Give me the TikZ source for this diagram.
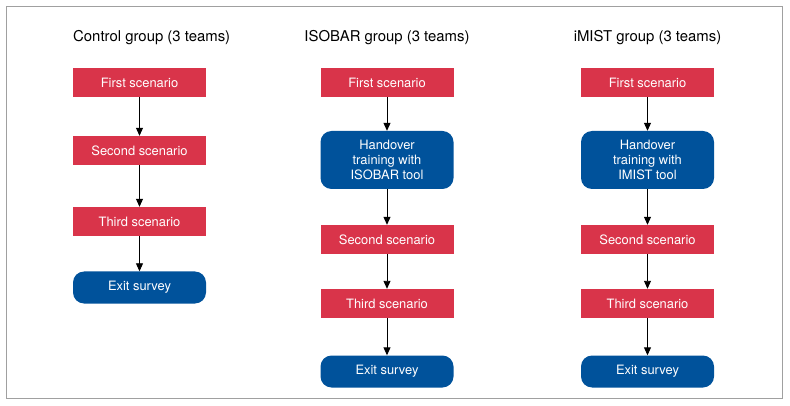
\documentclass[tikz,border=0pt]{standalone}
\usepackage{fontspec}
\setmainfont{TeX Gyre Heros}
\usetikzlibrary{arrows.meta}
\definecolor{boxred}{HTML}{D9344A}
\definecolor{boxblue}{HTML}{00529B}
\definecolor{framegray}{HTML}{A0A0A0}
\tikzset{
  redbox/.style={fill=boxred, draw=none, text=white, minimum width=133pt, minimum height=29pt, inner sep=0pt, font=\fontsize{12.9}{15}\selectfont},
  bluebox/.style={fill=boxblue, draw=none, text=white, rounded corners=11pt, minimum width=133pt, minimum height=32pt, inner sep=0pt, align=center, font=\fontsize{12.9}{15}\selectfont},
  title/.style={text=black, inner sep=0pt, font=\fontsize{14.9}{17}\selectfont, anchor=base},
  flow/.style={draw=black, line width=0.9pt, -{Triangle[length=8pt,width=7pt]}},
}
\begin{document}
\begin{tikzpicture}[x=1pt,y=-1pt]
\useasboundingbox (0,0) rectangle (790,406);
\draw[framegray, line width=1.5pt] (6.5,6.5) rectangle (782.5,398.5);

% Control
\node[title, anchor=base west] (t1) at (73,42) {Control group (3 teams)};
\node[redbox] (c1) at (139.5,82.5) {First scenario};
\node[redbox] (c2) at (139.5,150.5) {Second scenario};
\node[redbox] (c3) at (139.5,221.5) {Third scenario};
\node[bluebox] (c4) at (139.5,287.5) {Exit survey};
\draw[flow] (c1) -- (c2);
\draw[flow] (c2) -- (c3);
\draw[flow] (c3) -- (c4);

% ISOBAR
\node[title] (t2) at (387,42) {ISOBAR group (3 teams)};
\node[redbox] (i1) at (387,82.5) {First scenario};
\node[bluebox, minimum height=58pt] (i2) at (387,160) {Handover\\training with\\ISOBAR tool};
\node[redbox] (i3) at (387,239.5) {Second scenario};
\node[redbox] (i4) at (387,303.5) {Third scenario};
\node[bluebox] (i5) at (387,371.5) {Exit survey};
\draw[flow] (i1) -- (i2);
\draw[flow] (i2) -- (i3);
\draw[flow] (i3) -- (i4);
\draw[flow] (i4) -- (i5);

% iMIST
\node[title] (t3) at (647.5,42) {iMIST group (3 teams)};
\node[redbox] (m1) at (647.5,82.5) {First scenario};
\node[bluebox, minimum height=58pt] (m2) at (647.5,160) {Handover\\training with\\IMIST tool};
\node[redbox] (m3) at (647.5,239.5) {Second scenario};
\node[redbox] (m4) at (647.5,303.5) {Third scenario};
\node[bluebox] (m5) at (647.5,371.5) {Exit survey};
\draw[flow] (m1) -- (m2);
\draw[flow] (m2) -- (m3);
\draw[flow] (m3) -- (m4);
\draw[flow] (m4) -- (m5);
\end{tikzpicture}
\end{document}
